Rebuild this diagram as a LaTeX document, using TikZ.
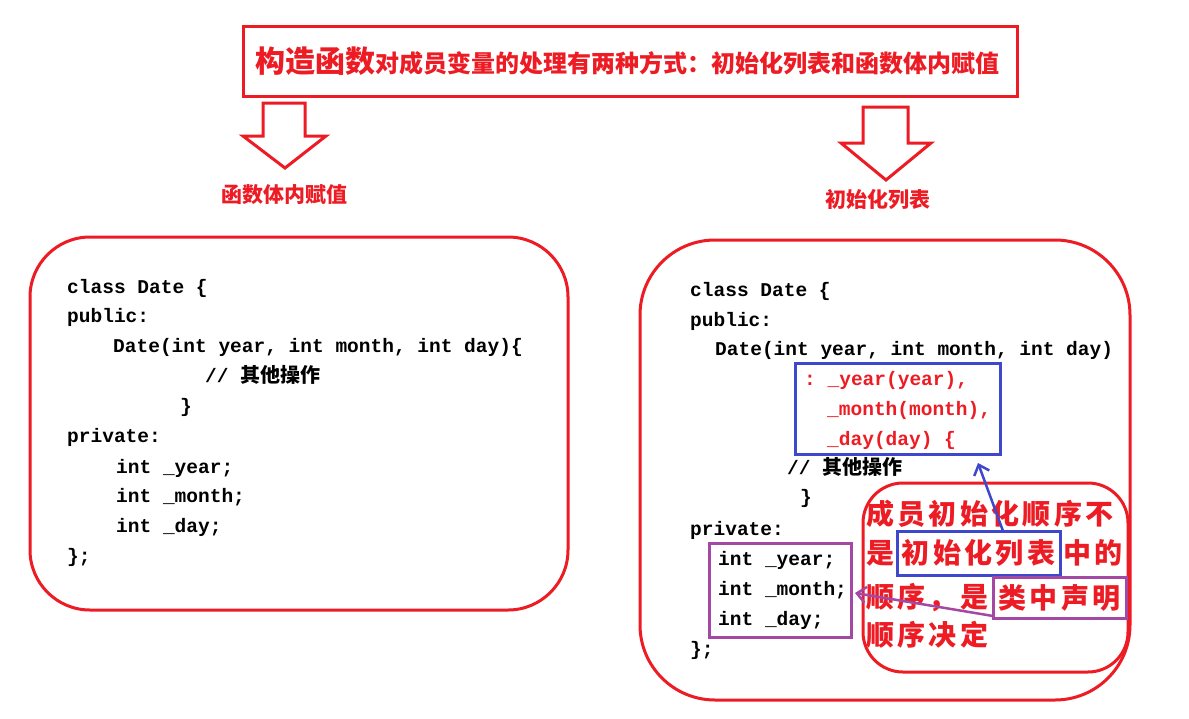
\documentclass[tikz,border=0pt]{standalone}
\usepackage{fontspec}
\setmonofont{Liberation Mono}
\newfontfamily\cjk{Noto Sans CJK SC}
\newfontfamily\cjknote{Noto Sans CJK SC}[LetterSpace=12]
\newcommand\cmtfont{\fontsize{20}{24}\selectfont\cjk\bfseries}
\usetikzlibrary{arrows.meta}
\definecolor{pred}{RGB}{237,28,36}
\definecolor{pblue}{RGB}{63,72,204}
\definecolor{ppurple}{RGB}{163,73,164}
\begin{document}
\begin{tikzpicture}[x=1pt,y=-1pt,
  code/.style={anchor=west, inner sep=0pt, text height=15pt, text depth=5pt, font=\fontsize{19.5}{24}\selectfont\ttfamily\bfseries},
  rcode/.style={code, text=pred},
  bigbox/.style={draw=pred, line width=3pt, rounded corners=#1, inner sep=0pt},
  notefont/.style={text=pred, font=\fontsize{28}{32}\selectfont\cjknote\bfseries},
  note/.style={notefont, anchor=west, inner sep=0pt, text height=24pt, text depth=6pt},
  lbl/.style={text=pred, inner sep=0pt, font=\fontsize{21}{24}\selectfont\cjk\bfseries},
  blockarrow/.style={draw=pred, line width=3pt, line join=miter},
  conn/.style={line width=2.5pt, -{Straight Barb[length=9pt,width=16pt,line width=2.5pt]}}]
\useasboundingbox (0,0) rectangle (1189,718);
\fill[white] (0,0) rectangle (1189,718);

% title
\node[draw=pred, line width=3pt, minimum width=774pt, minimum height=70pt, inner sep=0pt] (title) at (630,61) {};
\node[text=pred, inner sep=0pt, anchor=center] (titletext) at (627,61)
  {\cjk\bfseries{\fontsize{30}{32}\selectfont 构造函数}{\fontsize{24}{28}\selectfont 对成员变量的处理有两种方式：初始化列表和函数体内赋值}};

% block arrows
\draw[blockarrow] (263,103) -- (305,103) -- (305,136) -- (326,136) -- (285,168) -- (243,136) -- (263,136) -- cycle;
\draw[blockarrow] (863,107) -- (908,107) -- (908,143) -- (931,143) -- (886,180) -- (841,143) -- (863,143) -- cycle;

\node[lbl] (lblL) at (284,195) {函数体内赋值};
\node[lbl] (lblR) at (878,200) {初始化列表};

% left box
\node[bigbox=60pt, minimum width=538pt, minimum height=373pt] (leftbox) at (299,423.5) {};
\node[code] (l1) at (67,288) {class Date \{};
\node[code] (l2) at (67,317) {public:};
\node[code] (l3) at (113,347) {Date(int year, int month, int day)\{};
\node[code] (l4) at (205,377) {// {\cmtfont 其他操作}};
\node[code] (l5) at (180,407) {\}};
\node[code] (l6) at (67,437) {private:};
\node[code] (l7) at (116,468) {int \_year;};
\node[code] (l8) at (116,497) {int \_month;};
\node[code] (l9) at (116,527) {int \_day;};
\node[code] (l10) at (67,557) {\};};

% right box
\node[bigbox=75pt, minimum width=490pt, minimum height=460pt] (rightbox) at (885,470) {};
\node[code] (r1) at (690,291) {class Date \{};
\node[code] (r2) at (690,321) {public:};
\node[code] (r3) at (715,350) {Date(int year, int month, int day)};
\node[rcode] (r4) at (804,380) {: \_year(year),};
\node[rcode] (r5) at (827,410) {\_month(month),};
\node[rcode] (r6) at (827,440) {\_day(day) \{};
\node[code] (r7) at (787,469) {// {\cmtfont 其他操作}};
\node[code] (r8) at (800,498) {\}};
\node[code] (r9) at (690,530) {private:};
\node[code] (r10) at (718,560) {int \_year;};
\node[code] (r11) at (718,590) {int \_month;};
\node[code] (r12) at (718,620) {int \_day;};
\node[code] (r13) at (690,650) {\};};

\node[draw=pblue, line width=3pt, minimum width=205pt, minimum height=91pt, inner sep=0pt] (initbox) at (897.5,408.5) {};
\node[draw=ppurple, line width=3pt, minimum width=142pt, minimum height=94pt, inner sep=0pt] (membox) at (780,590) {};

% note box
\node[bigbox=40pt, minimum width=265pt, minimum height=189pt] (notebox) at (995.5,577.5) {};
\node[note] (n1) at (866,515) {成员初始化顺序不};
\node[note] (n2a) at (866,554) {是};
\node[notefont, draw=pblue, line width=3pt, minimum width=163pt, minimum height=44pt, inner sep=0pt] (lstbox) at (978.5,553) {初始化列表};
\node[note] (n2b) at (1063,554) {中的};
\node[note] (n3a) at (866,598) {顺序，是};
\node[notefont, draw=ppurple, line width=3pt, minimum width=133pt, minimum height=41pt, inner sep=0pt] (declbox) at (1059.5,597.5) {类中声明};
\node[note] (n4) at (866,636) {顺序决定};

% connectors
\coordinate (bstart) at (1003,531);
\coordinate (btip) at (978,463);
\draw[conn, pblue] (bstart) -- (btip);
\coordinate (pstart) at (993,616);
\coordinate (ptip) at (855,593);
\draw[conn, ppurple] (pstart) -- (ptip);
\end{tikzpicture}
\end{document}
